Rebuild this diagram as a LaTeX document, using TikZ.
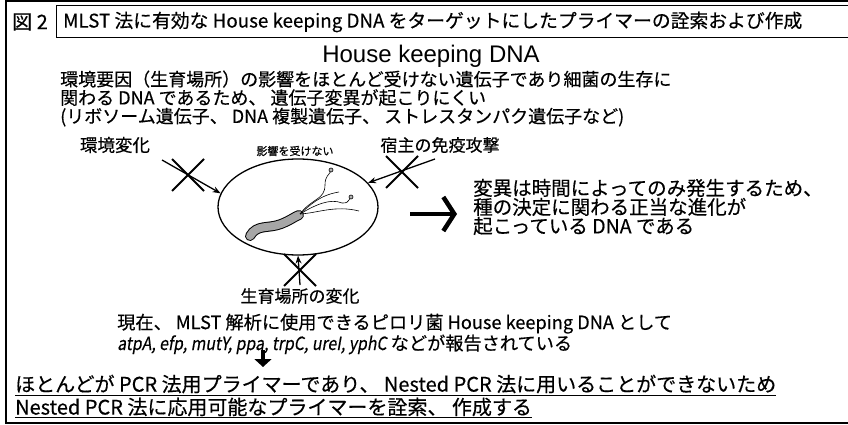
\documentclass[tikz,border=0pt]{standalone}
\usepackage{graphicx}
\usepackage{fontspec}
\setmainfont{Noto Sans CJK JP}[FakeBold=0.4, ItalicFont={Noto Sans CJK JP}, ItalicFeatures={FakeSlant=0.2, FakeBold=0.4}]
\newfontfamily\headfont{Liberation Sans}
\usetikzlibrary{arrows.meta, shapes.geometric, shapes.misc}

\begin{document}
\begin{tikzpicture}[x=1pt, y=-1pt,
        txt/.style={inner sep=0pt, anchor=west, align=left, font=\fontsize{18}{18.5}\selectfont},
        small/.style={inner sep=0pt, font=\fontsize{11}{12}\selectfont},
        blocked/.style={draw, cross out, line width=2pt, minimum size=30pt, inner sep=0pt},
        hit/.style={line width=1.3pt, -{Stealth[length=8pt, width=6pt]}}]
        \useasboundingbox (0,0) rectangle (848,425);
        % Frames
        \draw [line width=1.4pt] (6,1) rectangle (852,423);
        \draw [line width=1pt] (56,6) rectangle (852,38);
        % Heading
        \node [inner sep=0pt, font=\fontsize{20}{20}\selectfont] (fig) at (30,22) {図 2};
        \node [txt, font=\fontsize{18.8}{19}\selectfont] (title) at (63,22) {MLST 法に有効な House keeping DNA をターゲットにしたプライマーの詮索および作成};
        \node [txt, anchor=center, font=\headfont\fontsize{24}{24}\selectfont] (hk) at (431,56) {House keeping DNA};
        \node [txt] (about) at (60,98.5) {環境要因（生育場所）の影響をほとんど受けない遺伝子であり細菌の生存に\\
            関わる DNA であるため、 遺伝子変異が起こりにくい\\
            (リボソーム遺伝子、 DNA 複製遺伝子、 ストレスタンパク遺伝子など)};
        % Cell
        \node [draw, ellipse, line width=1.3pt, minimum width=160pt, minimum height=96pt] (cell) at (298,207) {};
        \node [small] (noeffect) at (295,151) {影響を受けない};
        \draw [line width=10pt, line cap=round] (250,236) .. controls (257,224) and (268,229) .. (281,224)
            .. controls (291,220) and (294,217) .. (299,215);
        \draw [line width=8pt, line cap=round, gray!70] (250,236) .. controls (257,224) and (268,229) .. (281,224)
            .. controls (291,220) and (294,217) .. (299,215);
        \draw [line width=0.6pt] (300,214) .. controls (312,198) and (325,200) .. (325,185)
            .. controls (325,176) and (329,175) .. (331,171);
        \draw [line width=0.6pt] (300,214) .. controls (315,205) and (330,198) .. (342,203)
            .. controls (347,203) .. (351,197);
        \draw [line width=0.6pt] (300,214) .. controls (318,213) and (335,205) .. (359,211);
        \draw [line width=0.6pt] (300,214) .. controls (310,205) and (320,195) .. (339,192);
        \draw [line width=0.6pt, fill=gray!60] (331,170) circle (2pt) (351,197) circle (2pt);
        % Outside influences
        \node [txt, anchor=center, font=\fontsize{17.5}{18}\selectfont] (env) at (115,145) {環境変化};
        \node [txt, anchor=center, font=\fontsize{17}{18}\selectfont] (host) at (440,145) {宿主の免疫攻撃};
        \node [txt, anchor=center, font=\fontsize{17}{18}\selectfont] (habitat) at (300,296) {生育場所の変化};
        \coordinate (envtail) at (162,160);
        \coordinate (hosttail) at (435,159);
        \coordinate (habtail) at (300,285);
        \draw [hit] (envtail) -- (cell.170);
        \draw [hit] (hosttail) -- (cell.19);
        \draw [hit] (habtail) -- (cell.south);
        \node [blocked] (xenv) at (188,175) {};
        \node [blocked] (xhost) at (402,172) {};
        \node [blocked] (xhab) at (300,270) {};
        % Conclusion
        \coordinate (bigtail) at (410,214);
        \coordinate (bighead) at (457,214);
        \draw [line width=4.5pt, -{Straight Barb[length=11pt, width=34pt, line width=4.5pt]}] (bigtail) -- (bighead);
        \node [txt, font=\fontsize{19.5}{19}\selectfont] (result) at (473,207) {変異は時間によってのみ発生するため、\\
            種の決定に関わる正当な進化が\\
            起こっている DNA である};
        % Reported genes
        \node [txt, font=\fontsize{18.2}{18.5}\selectfont] (report) at (117,334) {現在、 MLST 解析に使用できるピロリ菌 House keeping DNA として\\
            \scalebox{0.87}[1]{\itshape atpA, efp, mutY, ppa, trpC, ureI, yphC} などが報告されている};
        \coordinate (downtail) at (263,350);
        \coordinate (downhead) at (263,367);
        \draw [line width=4pt, -{Triangle[length=8pt, width=17pt]}] (downtail) -- (downhead);
        \node [txt, font=\fontsize{20}{21}\selectfont] (aim1) at (15,385) {\underline{ほとんどが PCR 法用プライマーであり、 Nested PCR 法に用いることができないため}};
        \node [txt, font=\fontsize{20}{21}\selectfont] (aim2) at (15,408) {\underline{Nested PCR 法に応用可能なプライマーを詮索、 作成する}};
    \end{tikzpicture}
\end{document}
